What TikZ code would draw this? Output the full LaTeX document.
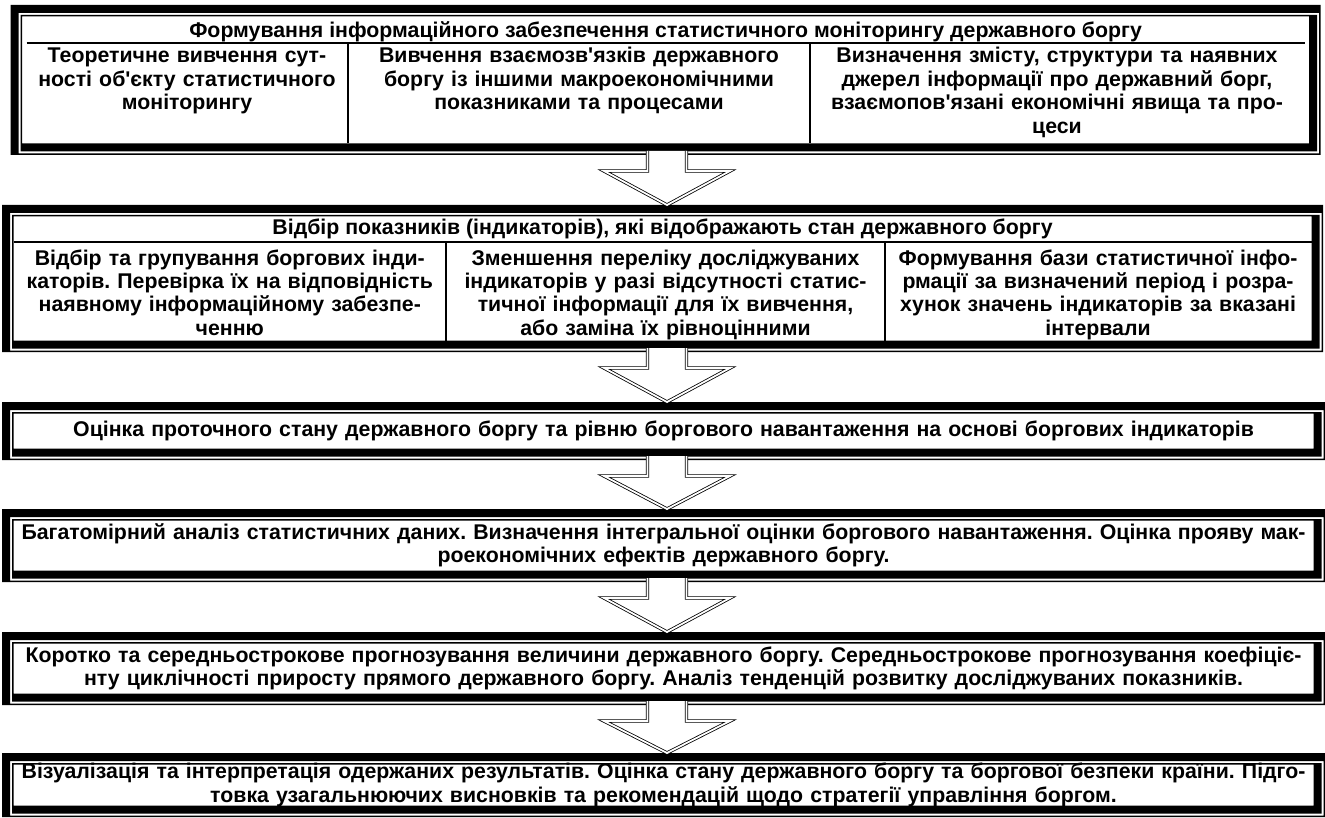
\documentclass[tikz,border=0pt]{standalone}
\usepackage{fontspec}
\setmainfont{Liberation Sans}
\usetikzlibrary{calc}
\frenchspacing
\newcommand{\boxfont}{\fontsize{21.3}{23.4}\selectfont\bfseries}
\newcommand{\ap}{\textquotesingle}
\tikzset{
  stagebox/.style={rectangle, fill=white, inner sep=0pt, outer sep=0pt, align=center,
    font=\boxfont, text width=1310pt,
    path picture={
      \fill[black, even odd rule]
        (path picture bounding box.south west) rectangle (path picture bounding box.north east)
        ($(path picture bounding box.south west)+(8pt,1.5pt)$) rectangle ($(path picture bounding box.north east)+(-1.5pt,-8pt)$);
      \fill[black, even odd rule]
        ($(path picture bounding box.south west)+(10pt,3.5pt)$) rectangle ($(path picture bounding box.north east)+(-3.5pt,-10pt)$)
        ($(path picture bounding box.south west)+(11.5pt,11.5pt)$) rectangle ($(path picture bounding box.north east)+(-11.5pt,-11.5pt)$);
    }},
  celltext/.style={inner sep=0pt, align=center, font=\boxfont, execute at begin node=\strut},
  rule/.style={line width=1.3pt},
  blockarr/.style={draw=black, line width=0.8pt, double=white, double distance=1.8pt, line join=miter}
}
% hollow down arrow between two stages
\newcommand{\stagearrow}[2]{%
  \path (ax |- #1.south) coordinate (atop) (ax |- #2.north) coordinate (atip);
  \fill[white] ($(atop)+(-19.5,-4)$) -- ($(atop)+(-19.5,16)$) -- ($(atop)+(-63,16)$) -- (atip)
    -- ($(atop)+(63,16)$) -- ($(atop)+(19.5,16)$) -- ($(atop)+(19.5,-4)$) -- cycle;
  \draw[blockarr] ($(atop)+(-19.5,-4)$) -- ($(atop)+(-19.5,16)$) -- ($(atop)+(-63,16)$) -- (atip)
    -- ($(atop)+(63,16)$) -- ($(atop)+(19.5,16)$) -- ($(atop)+(19.5,-4)$);
}
\begin{document}
\begin{tikzpicture}[x=1pt, y=-1pt]
\useasboundingbox (0,0) rectangle (1325,818);
\coordinate (ax) at (667,0);

% stage 1
\node[stagebox, minimum width=1301pt, minimum height=150pt] (form) at (665.5,80) {};
\draw[rule] (26.5,43) -- (1304.5,43);
\draw[rule] (348,43) -- (348,143.5);
\draw[rule] (810,43) -- (810,143.5);
\node[celltext, anchor=base, execute at begin node={}] (formtitle) at (665.5,37.7)
  {Формування інформаційного забезпечення статистичного моніторингу державного боргу};
\node[celltext, text width=320pt, anchor=north] (formA) at (187,46.3)
  {Теоретичне вивчення сут-\\ності об\ap єкту статистичного\\моніторингу};
\node[celltext, text width=460pt, anchor=north] (formB) at (579,46.3)
  {Вивчення взаємозв\ap язків державного\\боргу із іншими макроекономічними\\показниками та процесами};
\node[celltext, text width=490pt, anchor=north] (formC) at (1057,46.3)
  {Визначення змісту, структури та наявних\\джерел інформації про державний борг,\\взаємопов\ap язані економічні явища та про-\\цеси};

% stage 2
\node[stagebox, minimum width=1321pt, minimum height=147pt] (select) at (662.5,278.5) {};
\draw[rule] (13.5,242) -- (1311.5,242);
\draw[rule] (446,242) -- (446,340.5);
\draw[rule] (885,242) -- (885,340.5);
\node[celltext, anchor=base, execute at begin node={}] (selecttitle) at (662.5,235)
  {Відбір показників (індикаторів), які відображають стан державного боргу};
\node[celltext, text width=430pt, anchor=north] (selectA) at (229.75,248.6)
  {Відбір та групування боргових інди-\\каторів. Перевірка їх на відповідність\\наявному інформаційному забезпе-\\ченню};
\node[celltext, text width=435pt, anchor=north] (selectB) at (665.5,248.6)
  {Зменшення переліку досліджуваних\\індикаторів у разі відсутності статис-\\тичної інформації для їх вивчення,\\або заміна їх рівноцінними};
\node[celltext, text width=425pt, anchor=north] (selectC) at (1098,248.6)
  {Формування бази статистичної інфо-\\рмації за визначений період і розра-\\хунок значень індикаторів за вказані\\інтервали};

% stages 3 - 6
\node[stagebox, minimum width=1323pt, minimum height=58pt] (assess) at (663.5,431)
  {Оцінка проточного стану державного боргу та рівню боргового навантаження на основі боргових індикаторів};
\node[stagebox, minimum width=1323pt, minimum height=73pt] (analysis) at (663.5,545.5)
  {Багатомірний аналіз статистичних даних. Визначення інтегральної оцінки боргового навантаження. Оцінка прояву мак-\\роекономічних ефектів державного боргу.};
\node[stagebox, minimum width=1323pt, minimum height=73pt] (forecast) at (663.5,668.5)
  {Коротко та середньострокове прогнозування величини державного боргу. Середньострокове прогнозування коефіціє-\\нту циклічності приросту прямого державного боргу. Аналіз тенденцій розвитку досліджуваних показників.};
\node[stagebox, minimum width=1323pt, minimum height=64pt] (interp) at (663.5,785)
  {Візуалізація та інтерпретація одержаних результатів. Оцінка стану державного боргу та боргової безпеки країни. Підго-\\товка узагальнюючих висновків та рекомендацій щодо стратегії управління боргом.};

% arrows
\stagearrow{form}{select}
\stagearrow{select}{assess}
\stagearrow{assess}{analysis}
\stagearrow{analysis}{forecast}
\stagearrow{forecast}{interp}
\end{tikzpicture}
\end{document}
